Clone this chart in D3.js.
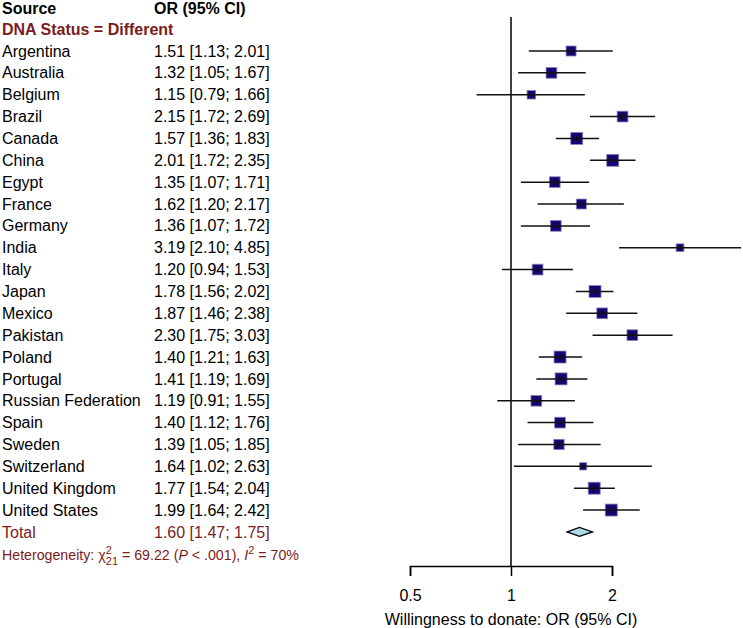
<!DOCTYPE html>
<html><head><meta charset="utf-8">
<script src="https://cdn.jsdelivr.net/npm/d3@7"></script>
<style>body{margin:0;background:#fff}text{font-family:"Liberation Sans",Arial,sans-serif}</style>
</head><body><svg id="c" width="743" height="628"></svg>
<script>
const countries = ["Argentina","Australia","Belgium","Brazil","Canada","China","Egypt","France","Germany","India","Italy","Japan","Mexico","Pakistan","Poland","Portugal","Russian Federation","Spain","Sweden","Switzerland","United Kingdom","United States"];
const orValues = [1.51,1.32,1.15,2.15,1.57,2.01,1.35,1.62,1.36,3.19,1.20,1.78,1.87,2.30,1.40,1.41,1.19,1.40,1.39,1.64,1.77,1.99];
const lowerCI = [1.13,1.05,0.79,1.72,1.36,1.72,1.07,1.20,1.07,2.10,0.94,1.56,1.46,1.75,1.21,1.19,0.91,1.12,1.05,1.02,1.54,1.64];
const upperCI = [2.01,1.67,1.66,2.69,1.83,2.35,1.71,2.17,1.72,4.85,1.53,2.02,2.38,3.03,1.63,1.69,1.55,1.76,1.85,2.63,2.04,2.42];
const weights = [4.3,5.0,3.2,5.0,6.2,6.2,5.0,4.3,5.0,2.6,5.0,6.2,5.0,5.0,6.2,6.2,5.0,5.0,4.6,2.3,6.2,6.2];
const total = {or:1.60, lo:1.47, hi:1.75};
const tickValues = [0.5,1,2];
const fmt = d3.format(".2f");

const svg = d3.select("#c");
const darkRed = "#7a1c1c";
const x = d3.scaleLog().base(2).domain([0.5,2]).range([410,612]);
const rowY = d3.scaleLinear().domain([0,1]).range([51,51+21.86]);
const boxSize = d3.scaleSqrt().domain([0,6.2]).range([0,12]);
const col1 = 2, col2 = 154;

// headers
svg.append("text").attr("x",col1).attr("y",rowY(-2)+1).attr("dy","0.35em").attr("font-size",16).attr("font-weight","bold").text("Source");
svg.append("text").attr("x",col2).attr("y",rowY(-2)+1).attr("dy","0.35em").attr("font-size",16).attr("font-weight","bold").text("OR (95% CI)");
svg.append("text").attr("x",col1).attr("y",rowY(-1)).attr("dy","0.35em").attr("font-size",16).attr("font-weight","bold").attr("fill",darkRed).text("DNA Status = Different");

// reference line at 1
svg.append("line").attr("x1",x(1)).attr("x2",x(1)).attr("y1",17).attr("y2",566).attr("stroke","#000").attr("stroke-width",1.5);

const rows = svg.append("g").selectAll("g").data(countries).join("g");
rows.append("text").attr("x",col1).attr("y",(d,i)=>rowY(i)).attr("dy","0.35em").attr("font-size",16).text(d=>d);
rows.append("text").attr("x",col2).attr("y",(d,i)=>rowY(i)).attr("dy","0.35em").attr("font-size",16)
  .text((d,i)=>`${fmt(orValues[i])} [${fmt(lowerCI[i])}; ${fmt(upperCI[i])}]`);
rows.append("rect")
  .attr("x",(d,i)=>x(orValues[i])-boxSize(weights[i])/2)
  .attr("y",(d,i)=>rowY(i)-boxSize(weights[i])/2)
  .attr("width",(d,i)=>boxSize(weights[i])).attr("height",(d,i)=>boxSize(weights[i]))
  .attr("fill","#170571").attr("stroke","#8c86c4").attr("stroke-width",0.8);
rows.append("line").attr("x1",(d,i)=>x(lowerCI[i])).attr("x2",(d,i)=>x(upperCI[i]))
  .attr("y1",(d,i)=>rowY(i)).attr("y2",(d,i)=>rowY(i)).attr("stroke","#111").attr("stroke-width",1.5);
rows.append("line").attr("x1",(d,i)=>x(orValues[i])).attr("x2",(d,i)=>x(orValues[i]))
  .attr("y1",(d,i)=>rowY(i)-3).attr("y2",(d,i)=>rowY(i)+3).attr("stroke","#111").attr("stroke-width",1.2);

// total
const ty = rowY(22);
svg.append("text").attr("x",col1).attr("y",ty).attr("dy","0.35em").attr("font-size",16).attr("fill",darkRed).text("Total");
svg.append("text").attr("x",col2).attr("y",ty).attr("dy","0.35em").attr("font-size",16).attr("fill",darkRed)
  .text(`${fmt(total.or)} [${fmt(total.lo)}; ${fmt(total.hi)}]`);
svg.append("path").attr("d",`M${x(total.lo)},${ty}L${x(total.or)},${ty-4.5}L${x(total.hi)},${ty}L${x(total.or)},${ty+4.5}Z`)
  .attr("fill","#add8e6").attr("stroke","#000").attr("stroke-width",1.3);

// heterogeneity
const het = svg.append("text").attr("x",col1).attr("y",rowY(23)+1).attr("dy","0.35em").attr("font-size",14.2).attr("fill",darkRed);
het.append("tspan").text("Heterogeneity: χ");
het.append("tspan").attr("font-size",11).attr("dy",-6).text("2");
het.append("tspan").attr("font-size",11).attr("dx",-6).attr("dy",11).text("21");
het.append("tspan").attr("dy",-5).text(" = 69.22 (");
het.append("tspan").attr("font-style","italic").text("P");
het.append("tspan").text(" < .001), ");
het.append("tspan").attr("font-style","italic").text("I");
het.append("tspan").attr("font-size",11).attr("dy",-6).text("2");
het.append("tspan").attr("dy",6).text(" = 70%");

// axis
const axis = svg.append("g").attr("transform","translate(0,566)")
  .call(d3.axisBottom(x).tickValues(tickValues).tickSize(10).tickSizeOuter(10).tickPadding(14).tickFormat(d=>String(d)));
axis.selectAll("path,line").attr("stroke","#000").attr("stroke-width",1.5);
axis.selectAll("text").attr("font-size",16).attr("fill","#000").attr("font-family","Liberation Sans, Arial, sans-serif");
svg.append("text").attr("x",x(1)).attr("y",619).attr("dy","0.35em").attr("text-anchor","middle").attr("font-size",16).text("Willingness to donate: OR (95% CI)");
</script></body></html>
